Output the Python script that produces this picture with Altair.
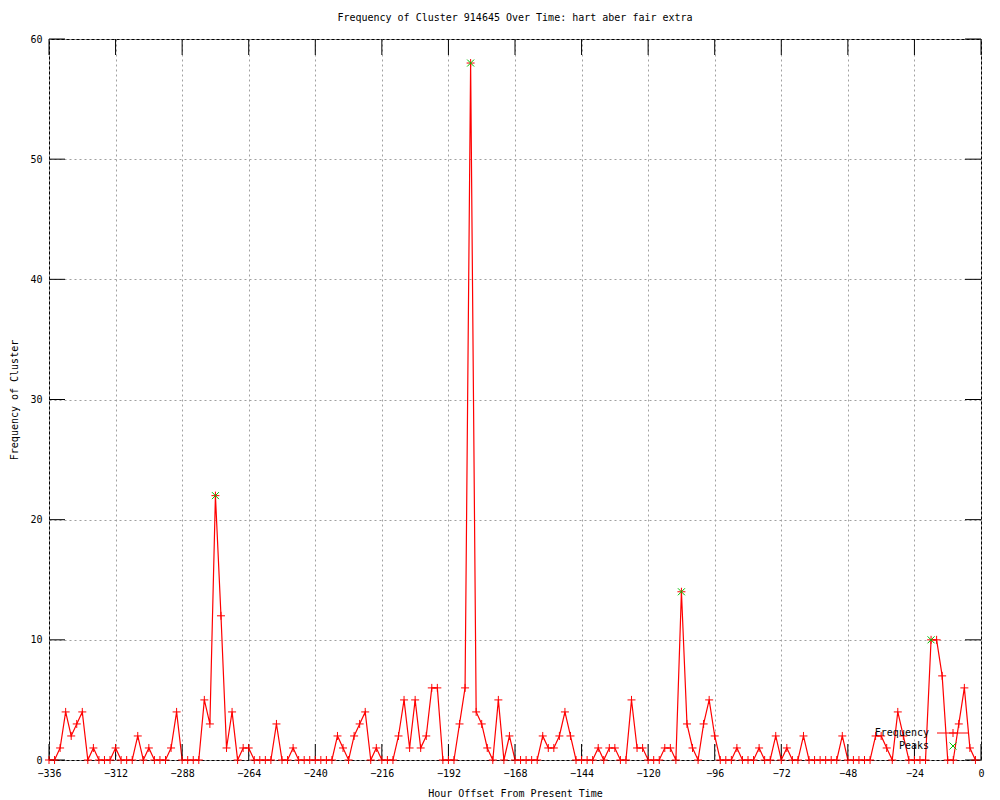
import altair as alt
import pandas as pd

# ---- data ----
hours = list(range(-336, 0, 2))
frequency = [
    0, 0, 1, 4, 2, 3, 4, 0, 1, 0,
    0, 0, 1, 0, 0, 0, 2, 0, 1, 0,
    0, 0, 1, 4, 0, 0, 0, 0, 5, 3,
    22, 12, 1, 4, 0, 1, 1, 0, 0, 0,
    0, 3, 0, 0, 1, 0, 0, 0, 0, 0,
    0, 0, 2, 1, 0, 2, 3, 4, 0, 1,
    0, 0, 0, 2, 5, 1, 5, 1, 2, 6,
    6, 0, 0, 0, 3, 6, 58, 4, 3, 1,
    0, 5, 0, 2, 0, 0, 0, 0, 0, 2,
    1, 1, 2, 4, 2, 0, 0, 0, 0, 1,
    0, 1, 1, 0, 0, 5, 1, 1, 0, 0,
    0, 1, 1, 0, 14, 3, 1, 0, 3, 5,
    2, 0, 0, 0, 1, 0, 0, 0, 1, 0,
    0, 2, 0, 1, 0, 0, 2, 0, 0, 0,
    0, 0, 0, 2, 0, 0, 0, 0, 0, 2,
    2, 1, 0, 4, 2, 0, 0, 0, 0, 10,
    10, 7, 0, 0, 3, 6, 1, 0,
]
peak_hours = [-276, -184, -108, -18]
peak_values = [22, 58, 14, 10]
x_ticks = [-336, -312, -288, -264, -240, -216, -192, -168, -144, -120, -96, -72, -48, -24, 0]
y_ticks = [0, 10, 20, 30, 40, 50, 60]
legend_labels = ["Frequency", "Peaks"]

title_text = "Frequency of Cluster 914645 Over Time: hart aber fair extra"
x_title = "Hour Offset From Present Time"
y_title = "Frequency of Cluster"

# ---- styling ----
FONT = "DejaVu Sans Mono"
FS = 10
W, H = 932, 721
TICK = 16
RED = "#ff0000"
GREEN = "#00c000"
PLUS = "M-1,0L1,0M0,-1L0,1"
XSHAPE = "M-1,-1L1,1M-1,1L1,-1"

df = pd.DataFrame({"hour": hours, "freq": frequency})
peaks_df = pd.DataFrame({"hour": peak_hours, "freq": peak_values})
xt_df = pd.DataFrame({"hour": x_ticks})
yt_df = pd.DataFrame({"freq": y_ticks})

xs = alt.Scale(domain=[-336, 0], nice=False, zero=False)
ys = alt.Scale(domain=[0, 60], nice=False, zero=False)

x_axis = alt.Axis(
    values=x_ticks, format="d", grid=True, gridColor="#a0a0a0", gridDash=[2, 3],
    gridWidth=1, ticks=False, domain=False, labelFont=FONT, labelFontSize=FS,
    labelColor="black", labelPadding=8, labelFlush=False, labelOverlap=False,
    title=x_title, titleFont=FONT, titleFontSize=FS, titleFontWeight="normal",
    titleColor="black", titleBaseline="middle", titleY=33, titleX=W / 2,
    titleAlign="center",
)
y_axis = alt.Axis(
    values=y_ticks, format="d", grid=True, gridColor="#a0a0a0", gridDash=[2, 3],
    gridWidth=1, ticks=False, domain=False, labelFont=FONT, labelFontSize=FS,
    labelColor="black", labelPadding=7, labelFlush=False, labelOverlap=False,
    labelBaseline="middle",
    title=y_title, titleFont=FONT, titleFontSize=FS, titleFontWeight="normal",
    titleColor="black", titleAngle=270, titleBaseline="middle", titleX=-35,
    titleY=H / 2, titleAlign="center",
)

X = alt.X("hour:Q", scale=xs, axis=x_axis)
Y = alt.Y("freq:Q", scale=ys, axis=y_axis)

line = alt.Chart(df).mark_line(color=RED, strokeWidth=1.2).encode(x=X, y=Y)
points = alt.Chart(df).mark_point(
    shape=PLUS, size=64, color=RED, strokeWidth=1, filled=False, opacity=1
).encode(x=X, y=Y)
peaks = alt.Chart(peaks_df).mark_point(
    shape=XSHAPE, size=49, color=GREEN, strokeWidth=1, filled=False, opacity=1
).encode(x=X, y=Y)

# inward tick marks on all four sides
xt_bottom = alt.Chart(xt_df).mark_rule(color="black", strokeWidth=1).encode(
    x=X, y=alt.value(H), y2=alt.value(H - TICK)
)
xt_top = alt.Chart(xt_df).mark_rule(color="black", strokeWidth=1).encode(
    x=X, y=alt.value(0), y2=alt.value(TICK)
)
yt_left = alt.Chart(yt_df).mark_rule(color="black", strokeWidth=1).encode(
    y=Y, x=alt.value(0), x2=alt.value(TICK)
)
yt_right = alt.Chart(yt_df).mark_rule(color="black", strokeWidth=1).encode(
    y=Y, x=alt.value(W), x2=alt.value(W - TICK)
)

# key (bottom right, inside the plot)
one = df.head(1)
key_freq_text = alt.Chart(one).mark_text(
    text=legend_labels[0], font=FONT, fontSize=FS, align="right", baseline="middle", color="black"
).encode(x=alt.value(880), y=alt.value(694))
key_peak_text = alt.Chart(one).mark_text(
    text=legend_labels[1], font=FONT, fontSize=FS, align="right", baseline="middle", color="black"
).encode(x=alt.value(880), y=alt.value(707))
key_line = alt.Chart(one).mark_rule(color=RED, strokeWidth=1).encode(
    x=alt.value(888), x2=alt.value(920), y=alt.value(694)
)
key_plus = alt.Chart(one).mark_point(
    shape=PLUS, size=64, color=RED, strokeWidth=1, filled=False, opacity=1
).encode(x=alt.value(904), y=alt.value(694))
key_x = alt.Chart(one).mark_point(
    shape=XSHAPE, size=49, color=GREEN, strokeWidth=1, filled=False, opacity=1
).encode(x=alt.value(904), y=alt.value(707))

chart = alt.layer(
    line, xt_bottom, xt_top, yt_left, yt_right, points, peaks,
    key_freq_text, key_peak_text, key_line, key_plus, key_x,
).properties(
    width=W, height=H,
    title=alt.TitleParams(
        text=title_text, font=FONT, fontSize=FS, fontWeight="normal",
        color="black", anchor="middle", baseline="bottom", offset=1,
    ),
    autosize=alt.AutoSizeParams(type="none"),
    padding={"left": 41, "top": 31, "right": 11, "bottom": 41},
    background="white",
).configure_view(
    stroke="black", strokeWidth=1
)

chart.save("out.html", embed_options={"renderer": "svg", "actions": False})
